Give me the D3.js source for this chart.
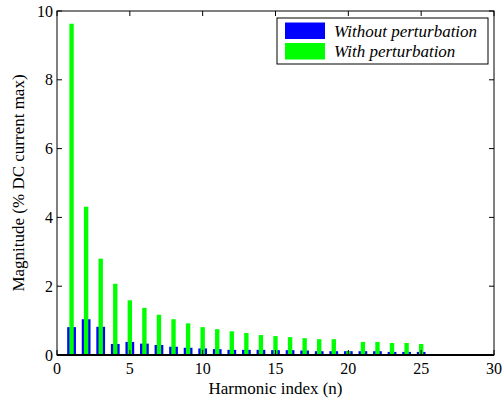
<!DOCTYPE html>
<html>
<head>
<meta charset="utf-8">
<script src="https://cdn.jsdelivr.net/npm/d3@7"></script>
<style>
  body { margin: 0; background: #fff; }
  text.tk { font-family: "Liberation Serif"; font-size: 16px; }
  text.lb { font-family: "Liberation Serif"; font-size: 17px; }
</style>
</head>
<body>
<div id="chart"></div>
<script>
const width = 503;
const height = 398;
const margin = { top: 11, right: 9, bottom: 43, left: 57 };

// Données
const harmonics = d3.range(1, 26);
const withoutPert = [0.81, 1.04, 0.82, 0.32, 0.38, 0.33, 0.29, 0.24, 0.21, 0.19, 0.17, 0.15, 0.15,
                     0.15, 0.14, 0.14, 0.13, 0.11, 0.11, 0.11, 0.11, 0.11, 0.09, 0.09, 0.09];
const withPert = [9.63, 4.31, 2.80, 2.07, 1.59, 1.37, 1.17, 1.04, 0.92, 0.81, 0.75, 0.69, 0.64,
                  0.58, 0.55, 0.52, 0.49, 0.46, 0.46, 0.11, 0.38, 0.38, 0.35, 0.35, 0.32];
const xTicks = [0, 5, 10, 15, 20, 25, 30];
const yTicks = [0, 2, 4, 6, 8, 10];
const seriesNames = ["Without perturbation", "With perturbation"];
const colors = ["#0000ff", "#00ff00"];

const x = d3.scaleLinear().domain([0, 30]).range([margin.left, width - margin.right]);
const y = d3.scaleLinear().domain([0, 10]).range([height - margin.bottom, margin.top]);

const svg = d3.select("#chart")
    .append("svg")
    .attr("width", width)
    .attr("height", height);

// Barres : bleu large dessous, vert étroit dessus
const bw = x(0.6) - x(0);
const gw = x(0.3) - x(0);

svg.append("g").selectAll("rect")
    .data(harmonics)
    .join("rect")
    .attr("x", (d) => x(d) - bw / 2)
    .attr("width", bw)
    .attr("y", (d, i) => y(withoutPert[i]))
    .attr("height", (d, i) => y(0) - y(withoutPert[i]))
    .attr("fill", colors[0]);

svg.append("g").selectAll("rect")
    .data(harmonics)
    .join("rect")
    .attr("x", (d) => x(d) - gw / 2)
    .attr("width", gw)
    .attr("y", (d, i) => y(withPert[i]))
    .attr("height", (d, i) => y(0) - y(withPert[i]))
    .attr("fill", colors[1]);

// Graduations intérieures
const tickG = svg.append("g").attr("stroke", "#000");
xTicks.forEach((t) => {
  tickG.append("line").attr("x1", x(t)).attr("x2", x(t)).attr("y1", y(0)).attr("y2", y(0) - 5);
  tickG.append("line").attr("x1", x(t)).attr("x2", x(t)).attr("y1", y(10)).attr("y2", y(10) + 5);
});
yTicks.forEach((t) => {
  tickG.append("line").attr("x1", x(0)).attr("x2", x(0) + 5).attr("y1", y(t)).attr("y2", y(t));
  tickG.append("line").attr("x1", x(30)).attr("x2", x(30) - 5).attr("y1", y(t)).attr("y2", y(t));
});

svg.append("g").selectAll("text")
    .data(xTicks)
    .join("text")
    .attr("class", "tk")
    .attr("x", (d) => x(d))
    .attr("y", y(0) + 19)
    .attr("text-anchor", "middle")
    .text((d) => d);

svg.append("g").selectAll("text")
    .data(yTicks)
    .join("text")
    .attr("class", "tk")
    .attr("x", x(0) - 4)
    .attr("y", (d) => y(d) + 5.5)
    .attr("text-anchor", "end")
    .text((d) => d);

// Cadre
svg.append("rect")
    .attr("x", x(0)).attr("y", y(10))
    .attr("width", x(30) - x(0)).attr("height", y(0) - y(10))
    .attr("fill", "none").attr("stroke", "#000").attr("stroke-width", 1);

svg.append("line")
    .attr("x1", x(0)).attr("x2", x(30))
    .attr("y1", y(0)).attr("y2", y(0))
    .attr("stroke", "#000").attr("stroke-width", 2);

// Titres des axes
svg.append("text")
    .attr("class", "lb")
    .attr("x", (x(0) + x(30)) / 2)
    .attr("y", 394)
    .attr("text-anchor", "middle")
    .text("Harmonic index (n)");

svg.append("text")
    .attr("class", "lb")
    .attr("transform", `translate(24,${(y(0) + y(10)) / 2}) rotate(-90)`)
    .attr("text-anchor", "middle")
    .text("Magnitude (% DC current max)");

// Légende
const legend = svg.append("g");
legend.append("rect")
    .attr("x", 277).attr("y", 18)
    .attr("width", 211).attr("height", 46)
    .attr("fill", "#fff").attr("stroke", "#000");

seriesNames.forEach((name, i) => {
  legend.append("rect")
      .attr("x", 285).attr("y", 22.5 + i * 20.5)
      .attr("width", 40).attr("height", 16.5)
      .attr("fill", colors[i]);
  legend.append("text")
      .attr("class", "lb")
      .attr("x", 334).attr("y", 36.5 + i * 20.5)
      .attr("font-style", "italic")
      .text(name);
});
</script>
</body>
</html>
